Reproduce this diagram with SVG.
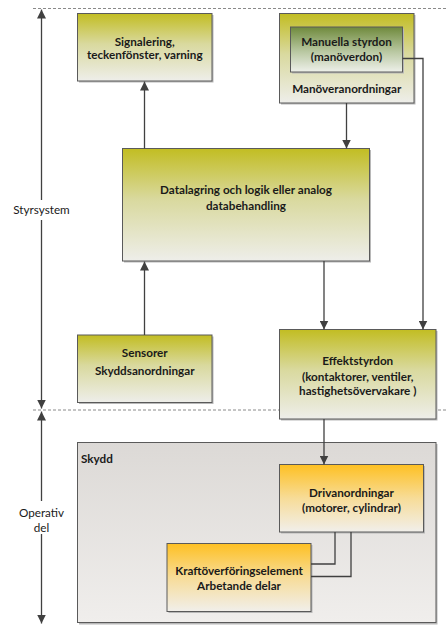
<svg xmlns="http://www.w3.org/2000/svg" width="447" height="626" viewBox="0 0 447 626">
<defs>
<linearGradient id="gOlive" x1="0" y1="0" x2="0" y2="1">
<stop offset="0" stop-color="#c2bd22"/>
<stop offset="0.45" stop-color="#d9d99e"/>
<stop offset="1" stop-color="#eeeeea"/>
</linearGradient>
<linearGradient id="gGreen" x1="0" y1="0" x2="0" y2="1">
<stop offset="0" stop-color="#6f8a3c"/>
<stop offset="0.55" stop-color="#b9c8a2"/>
<stop offset="1" stop-color="#eef0ea"/>
</linearGradient>
<linearGradient id="gOrange" x1="0" y1="0" x2="0" y2="1">
<stop offset="0" stop-color="#fec022"/>
<stop offset="0.5" stop-color="#f7dc98"/>
<stop offset="1" stop-color="#f1efeb"/>
</linearGradient>
<linearGradient id="gGray" x1="0" y1="0" x2="0" y2="1">
<stop offset="0" stop-color="#dcd9d6"/>
<stop offset="1" stop-color="#f0eeec"/>
</linearGradient>
<marker id="ah" viewBox="0 0 10 10" refX="10" refY="5" markerWidth="9" markerHeight="9" markerUnits="userSpaceOnUse" orient="auto">
<path d="M0,0 L10,5 L0,10 z" fill="#404040"/>
</marker>
<marker id="ah2" viewBox="0 0 10 10" refX="10" refY="5" markerWidth="9" markerHeight="9" markerUnits="userSpaceOnUse" orient="auto">
<path d="M0,0 L10,5 L0,10 z" fill="#404040"/>
</marker>
</defs>
<style>
.box{stroke:#5a5a5a;stroke-width:1}
.sh{fill:#b8b8b8}
.t{font-family:Lato,"Liberation Sans",sans-serif;font-size:11.7px;font-weight:bold;fill:#1a1a1a;text-anchor:middle}
.lbl{font-family:Lato,"Liberation Sans",sans-serif;font-size:11.7px;fill:#1a1a1a;text-anchor:middle}
.c{fill:none;stroke:#404040;stroke-width:1.3}
.dash{stroke:#8a8a8a;stroke-width:1;stroke-dasharray:3,2}
</style>

<g id="dividers">
<line class="dash" x1="33" y1="8.5" x2="447" y2="8.5"/>
<line class="dash" x1="33" y1="410" x2="447" y2="410"/>
</g>

<g id="skydd">
<rect class="sh" x="79" y="444" width="358.5" height="180.5"/>
<rect class="box" x="77.5" y="442.5" width="358.5" height="180" fill="url(#gGray)"/>
<text class="t" x="81" y="463" style="text-anchor:start">Skydd</text>
</g>

<g id="signalering">
<rect class="sh" x="79" y="15" width="134.5" height="67.5"/>
<rect class="box" x="77.5" y="13.5" width="134.5" height="67.5" fill="url(#gOlive)"/>
<text class="t" x="144.75" y="46">Signalering,</text>
<text class="t" x="144.75" y="59">teckenfönster, varning</text>
</g>

<g id="manoveranordningar">
<rect class="sh" x="281" y="15" width="134.5" height="89.5"/>
<rect class="box" x="279.5" y="13.5" width="134.5" height="89.5" fill="url(#gOlive)"/>
<text class="t" x="346.75" y="93">Manöveranordningar</text>
</g>

<g id="manuella">
<rect class="sh" x="292" y="28.5" width="112" height="45"/>
<rect class="box" x="290.5" y="27" width="112" height="45" fill="url(#gGreen)"/>
<text class="t" x="346.5" y="46">Manuella styrdon</text>
<text class="t" x="346.5" y="61">(manöverdon)</text>
</g>

<g id="datalagring">
<rect class="sh" x="124" y="150" width="247" height="112.5"/>
<rect class="box" x="122.5" y="148.5" width="247" height="112.5" fill="url(#gOlive)"/>
<text class="t" x="246" y="194">Datalagring och logik eller analog</text>
<text class="t" x="246" y="209.5">databehandling</text>
</g>

<g id="sensorer">
<rect class="sh" x="79" y="336.5" width="134.5" height="67.5"/>
<rect class="box" x="77.5" y="335" width="134.5" height="67.5" fill="url(#gOlive)"/>
<text class="t" x="144.75" y="357">Sensorer</text>
<text class="t" x="144.75" y="374.5">Skyddsanordningar</text>
</g>

<g id="effektstyrdon">
<rect class="sh" x="281" y="331" width="156.5" height="89.5"/>
<rect class="box" x="279.5" y="329.5" width="156.5" height="89.5" fill="url(#gOlive)"/>
<text class="t" x="357.75" y="364.5">Effektstyrdon</text>
<text class="t" x="357.75" y="380.5">(kontaktorer, ventiler,</text>
<text class="t" x="357.75" y="394.5">hastighetsövervakare )</text>
</g>

<g id="drivanordningar">
<rect class="sh" x="281" y="466" width="144" height="67.5"/>
<rect class="box" x="279.5" y="464.5" width="144" height="67.5" fill="url(#gOrange)"/>
<text class="t" x="351.5" y="497">Drivanordningar</text>
<text class="t" x="351.5" y="512">(motorer, cylindrar)</text>
</g>

<g id="kraftoverforing">
<rect class="sh" x="168.5" y="545" width="144" height="68"/>
<rect class="box" x="167" y="543.5" width="144" height="68" fill="url(#gOrange)"/>
<text class="t" x="239" y="574.5">Kraftöverföringselement</text>
<text class="t" x="239" y="590">Arbetande delar</text>
</g>

<g id="connectors">
<line class="c" x1="144.5" y1="148.5" x2="144.5" y2="81.5" marker-end="url(#ah)"/>
<line class="c" x1="346.5" y1="103" x2="346.5" y2="148.5" marker-end="url(#ah)"/>
<polyline class="c" points="402.5,58.5 423,58.5 423,329.5" marker-end="url(#ah)"/>
<line class="c" x1="144.5" y1="335" x2="144.5" y2="261.5" marker-end="url(#ah)"/>
<line class="c" x1="324" y1="261" x2="324" y2="329.5" marker-end="url(#ah)"/>
<line class="c" x1="324" y1="419" x2="324" y2="464.5" marker-end="url(#ah)"/>
<polyline class="c" points="335,532 335,564 311,564"/>
<polyline class="c" points="351,532 351,576.5 311,576.5"/>
</g>

<g id="axis">
<line class="c" x1="41.5" y1="200" x2="41.5" y2="9.5" marker-end="url(#ah2)"/>
<line class="c" x1="41.5" y1="220" x2="41.5" y2="408.5" marker-end="url(#ah2)"/>
<line class="c" x1="41.5" y1="501" x2="41.5" y2="411.5" marker-end="url(#ah2)"/>
<line class="c" x1="41.5" y1="534" x2="41.5" y2="623.5" marker-end="url(#ah2)"/>
<text class="lbl" x="41.5" y="214">Styrsystem</text>
<text class="lbl" x="41.5" y="516.5">Operativ</text>
<text class="lbl" x="41.5" y="532">del</text>
</g>
</svg>
